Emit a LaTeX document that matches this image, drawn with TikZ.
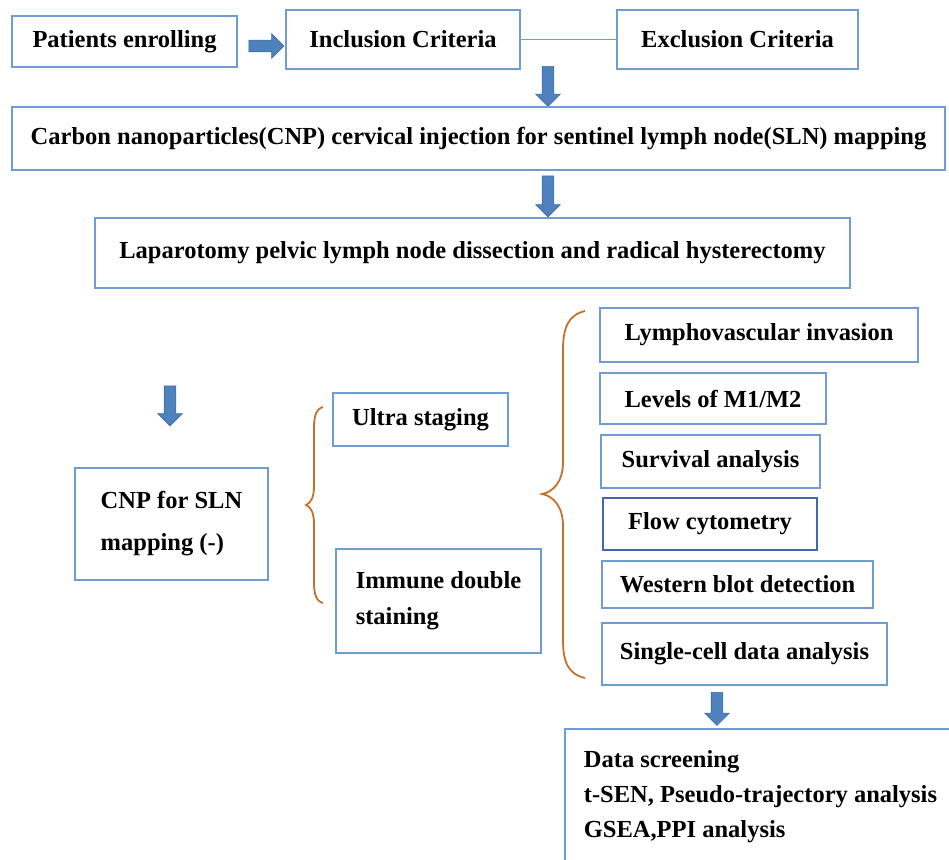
\documentclass[tikz,border=0pt]{standalone}
\usepackage{fontspec}
\setmainfont{Liberation Serif}
\usetikzlibrary{shapes.arrows}

\definecolor{boxblue}{RGB}{112,156,212}
\definecolor{flowblue}{RGB}{66,104,172}
\definecolor{arrowblue}{RGB}{79,129,189}
\definecolor{arrowedge}{RGB}{62,108,166}
\definecolor{bracecol}{RGB}{197,112,45}

\tikzset{
	box/.style={draw=boxblue, line width=1.8pt, inner sep=4pt},
	darkbox/.style={box, draw=flowblue, line width=2pt},
	blockarrow/.style={single arrow, fill=arrowblue, draw=arrowedge, line width=0.6pt,
		inner sep=5.5pt, single arrow head extend=6.5pt, single arrow head indent=0pt},
	bracket/.style={draw=bracecol, line width=1.8pt},
}

\begin{document}
\begin{tikzpicture}[x=1pt, y=-1pt, font=\bfseries\fontsize{24.5}{36}\selectfont]
		\useasboundingbox (0,0) rectangle (949,859);
		\clip (0,0) rectangle (949,859);

		%% enrolment
		\node[box, minimum width=225, minimum height=51] at (124.5,41.5)(enroll){Patients enrolling};
		\node[box, minimum width=234, minimum height=59] at (403,39.5)(incl){Inclusion Criteria};
		\node[box, minimum width=241, minimum height=59] at (737.5,39.5)(excl){Exclusion Criteria};

		\node[blockarrow, minimum height=35] at (263.5,46)(a1){};
		\draw[draw=boxblue, line width=1.6pt] (incl)--(excl);

		%% mapping and surgery
		\node[blockarrow, minimum height=40, shape border rotate=270] at (548,83.5)(a2){};
		\node[box, minimum width=933, minimum height=63] at (478.5,138.5)(inject)
			{Carbon nanoparticles(CNP) cervical injection for sentinel lymph node(SLN) mapping};

		\node[blockarrow, minimum height=41, shape border rotate=270] at (548,193.5)(a3){};
		\node[box, minimum width=755, minimum height=70] at (472.5,253)(lapar)
			{Laparotomy pelvic lymph node dissection and radical hysterectomy};

		%% negative mapping
		\node[blockarrow, minimum height=40, shape border rotate=270] at (170,403)(a4){};
		\node[box, minimum width=193, minimum height=112, align=left] at (171.5,524)(cnpneg)
			{CNP for SLN\\[6pt] mapping (-)};

		%% staging
		\node[box, minimum width=175, minimum height=53] at (420.5,419.5)(ultra){Ultra staging};
		\node[box, minimum width=205, minimum height=104, align=left] at (438.5,601)(immune)
			{Immune double\\ staining};

		\draw[bracket] (323,407) .. controls (316,409) and (314,416) .. (314,428) --
			(314,486) .. controls (314,497) and (311,503) .. (306,505) ..
			controls (311,507) and (314,513) .. (314,524) -- (314,582) ..
			controls (314,594) and (316,601) .. (323,603);

		%% analyses
		\node[box, minimum width=318, minimum height=54] at (759,335)(lvi){Lymphovascular invasion};
		\node[box, minimum width=226, minimum height=51] at (713,398.5)(levels){Levels of M1/M2};
		\node[box, minimum width=219, minimum height=53] at (710.5,461.5)(surv){Survival analysis};
		\node[darkbox, minimum width=214, minimum height=52] at (710,524)(flow){Flow cytometry};
		\node[box, minimum width=271, minimum height=47] at (737.5,584.5)(wb){Western blot detection};
		\node[box, minimum width=285, minimum height=62] at (744.5,654)(sc){Single-cell data analysis};

		\draw[bracket] (585,311) .. controls (568,315) and (563,328) .. (563,350) --
			(563,462) .. controls (563,482) and (553,492) .. (542,494) ..
			controls (553,496) and (563,506) .. (563,526) -- (563,640) ..
			controls (563,662) and (568,674) .. (585,678);

		%% data
		\node[blockarrow, minimum height=33, shape border rotate=270] at (717,706)(a5){};
		\node[box, anchor=north west, minimum height=136, inner xsep=19, align=left,
			font=\bfseries\fontsize{24.5}{35}\selectfont] at (564,728)(data)
			{Data screening\\ t-SEN, Pseudo-trajectory analysis\\ GSEA,PPI analysis};
	\end{tikzpicture}
\end{document}
